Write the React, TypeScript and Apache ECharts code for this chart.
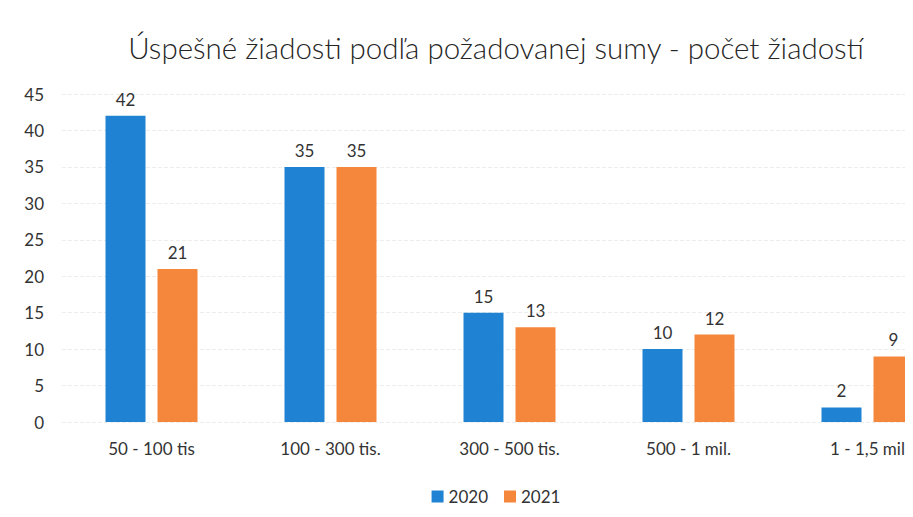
import React, { useEffect, useRef } from "react";
import * as echarts from "echarts";

const categories = ["50 - 100 tis", "100 - 300 tis.", "300 - 500 tis.", "500 - 1 mil.", "1 - 1,5 mil"];
const values2020 = [42, 35, 15, 10, 2];
const values2021 = [21, 35, 13, 12, 9];
const seriesNames = ["2020", "2021"];
const titleText = "Úspešné žiadosti podľa požadovanej sumy - počet žiadostí";

export default function App() {
  const ref = useRef<HTMLDivElement>(null);
  useEffect(() => {
    if (!ref.current) return;
    const chart = echarts.init(ref.current, undefined, { renderer: "svg" });
    const font = "Lato, 'Open Sans', sans-serif";
    const label = {
      show: true,
      position: "top",
      distance: 8,
      color: "#333333",
      fontSize: 17,
      fontFamily: font,
    };
    chart.setOption({
      animation: false,
      backgroundColor: "#ffffff",
      title: {
        text: titleText,
        left: "center",
        top: 19,
        textStyle: { fontFamily: font, fontSize: 29.5, fontWeight: 300, color: "#262626" },
      },
      legend: {
        data: seriesNames,
        left: "center",
        top: 475,
        itemWidth: 12,
        itemHeight: 12,
        itemGap: 16,
        icon: "rect",
        textStyle: { fontFamily: font, fontSize: 17, color: "#333333" },
      },
      grid: { left: 54, width: 895, top: 86, bottom: 95, containLabel: false },
      xAxis: {
        type: "category",
        data: categories,
        axisLine: { show: false },
        axisTick: { show: false },
        axisLabel: { color: "#333333", fontSize: 17, fontFamily: font, margin: 18 },
      },
      yAxis: {
        type: "value",
        min: 0,
        max: 45,
        interval: 5,
        axisLine: { show: false },
        axisTick: { show: false },
        axisLabel: { color: "#333333", fontSize: 17, fontFamily: font, margin: 18 },
        splitLine: { show: true, lineStyle: { color: "#ededed", type: "dashed" } },
      },
      series: [
        {
          name: seriesNames[0],
          type: "bar",
          data: values2020,
          barWidth: 40,
          barGap: "30%",
          itemStyle: { color: "#1f82d2" },
          label,
        },
        {
          name: seriesNames[1],
          type: "bar",
          data: values2021,
          barWidth: 40,
          barGap: "30%",
          itemStyle: { color: "#f5873c" },
          label,
        },
      ],
    });
    return () => chart.dispose();
  }, []);
  return (
    <div style={{ width: 905, height: 509, overflow: "hidden" }}>
      <div ref={ref} style={{ width: 976, height: 509 }} />
    </div>
  );
}
